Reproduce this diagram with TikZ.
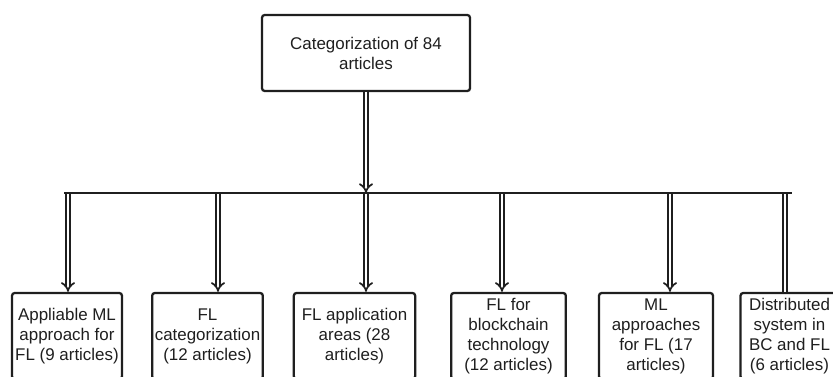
\documentclass[tikz,border=0pt]{standalone}
\usepackage{fontspec}
\setmainfont{Liberation Sans}
\usetikzlibrary{arrows.meta}
\definecolor{ink}{gray}{0.12}

\begin{document}
\begin{tikzpicture}[x=0.75pt, y=-0.75pt,
    catbox/.style={draw=ink, line width=1.7pt, rounded corners=2pt, fill=white,
      text=ink, align=center, inner sep=0pt, minimum height=64.5pt,
      font=\fontsize{12.7}{15}\selectfont},
    link/.style={draw=ink, line width=1.3pt, double=white, double distance=2.2pt},
    bus/.style={draw=ink, line width=1.8pt}]
  \useasboundingbox (0,0) rectangle (833,377);

  \node[catbox, minimum width=156pt, minimum height=57pt] (top) at (366,53) {Categorization of 84\\articles};

  \node[catbox, minimum width=82.5pt] (b1) at (67,336) {Appliable ML\\approach for\\FL (9 articles)};
  \node[catbox, minimum width=83pt] (b2) at (207.5,336) {FL\\categorization\\(12 articles)};
  \node[catbox, minimum width=91pt] (b3) at (354.5,336) {FL application\\areas (28\\articles)};
  \node[catbox, minimum width=86pt] (b4) at (508.5,336) {FL for\\blockchain\\technology\\(12 articles)};
  \node[catbox, minimum width=85.5pt] (b5) at (656,336) {ML\\approaches\\for FL (17\\articles)};
  \node[catbox, minimum width=73.5pt] (b6) at (789.5,336) {Distributed\\system in\\BC and FL\\(6 articles)};

  % junctions on the bus
  \coordinate (j1) at (68,193);
  \coordinate (j2) at (218,193);
  \coordinate (j3) at (366,193);
  \coordinate (j4) at (502,193);
  \coordinate (j5) at (670,193);
  \coordinate (j6) at (785,193);
  \coordinate (jend) at (792,193);

  \draw[link, -{Implies}] (top) -- (j3);
  \draw[link, -{Implies}] (j1) -- (j1 |- b1.north);
  \draw[link, -{Implies}] (j2) -- (j2 |- b2.north);
  \draw[link, -{Implies}] (j3) -- (j3 |- b3.north);
  \draw[link, -{Implies}] (j4) -- (j4 |- b4.north);
  \draw[link, -{Implies}] (j5) -- (j5 |- b5.north);
  \draw[link] (j6) -- (j6 |- b6.north);

  \draw[bus] ([xshift=-3]j1) -- (jend);
\end{tikzpicture}
\end{document}
